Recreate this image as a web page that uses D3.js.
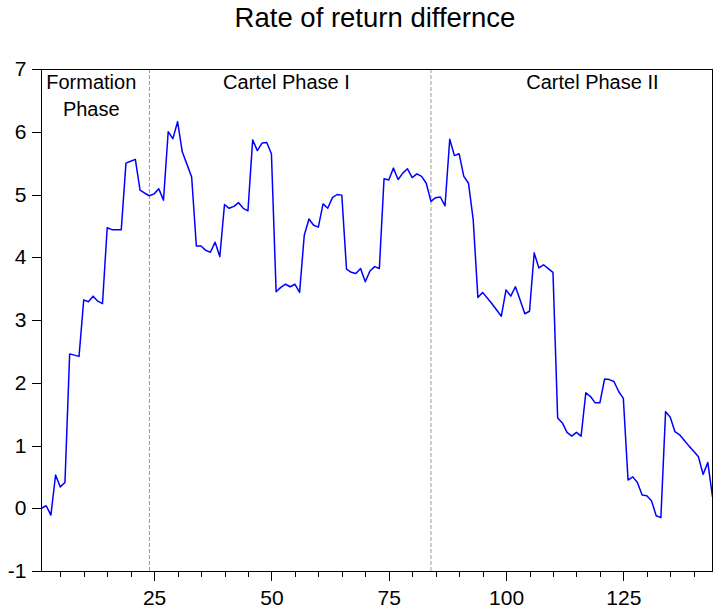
<!DOCTYPE html>
<html>
<head>
<meta charset="utf-8">
<script src="https://cdn.jsdelivr.net/npm/d3@7"></script>
<style>
	body { margin: 0; background: #fff; }
	svg text { font-family: "Liberation Sans", Arial, sans-serif; fill: #000; }
	.axis path, .axis line { stroke: #000; shape-rendering: crispEdges; }
</style>
</head>
<body>
<div id="chart"></div>
<script>
const diff_values = [
	0.00, 0.04, -0.11, 0.53, 0.34, 0.41, 2.46, 2.44, 2.42, 3.32,
	3.29, 3.38, 3.30, 3.26, 4.47, 4.44, 4.44, 4.44, 5.50, 5.53,
	5.56, 5.07, 5.02, 4.98, 5.01, 5.09, 4.91, 6.00, 5.89, 6.16,
	5.68, 5.48, 5.28, 4.18, 4.18, 4.11, 4.08, 4.24, 4.01, 4.84,
	4.78, 4.81, 4.87, 4.78, 4.74, 5.87, 5.70, 5.82, 5.83, 5.65,
	3.45, 3.52, 3.57, 3.53, 3.57, 3.44, 4.35, 4.61, 4.51, 4.48,
	4.85, 4.78, 4.95, 5.00, 4.99, 3.81, 3.76, 3.74, 3.82, 3.61,
	3.78, 3.85, 3.82, 5.25, 5.23, 5.42, 5.24, 5.34, 5.41, 5.27,
	5.33, 5.29, 5.18, 4.89, 4.95, 4.96, 4.82, 5.88, 5.62, 5.65,
	5.29, 5.18, 4.60, 3.36, 3.44, 3.35, 3.26, 3.16, 3.06, 3.48,
	3.38, 3.53, 3.32, 3.10, 3.14, 4.07, 3.83, 3.88, 3.82, 3.76,
	1.44, 1.36, 1.21, 1.15, 1.21, 1.15, 1.84, 1.78, 1.68, 1.68,
	2.06, 2.05, 2.02, 1.86, 1.75, 0.45, 0.50, 0.41, 0.21, 0.20,
	0.12, -0.12, -0.15, 1.54, 1.45, 1.22, 1.17, 1.08, 0.99, 0.91,
	0.82, 0.54, 0.73, 0.18
];
const x_major_ticks = [25, 50, 75, 100, 125];
const x_minor_ticks = [5, 10, 15, 20, 30, 35, 40, 45, 55, 60, 65, 70, 80, 85, 90, 95, 105, 110, 115, 120, 130, 135, 140];
const y_ticks = [-1, 0, 1, 2, 3, 4, 5, 6, 7];
const phase_breaks = [24, 84];
const phase_labels = [
	{ lines: ["Formation", "Phase"], at: 11.6 },
	{ lines: ["Cartel Phase I"], at: 53.2 },
	{ lines: ["Cartel Phase II"], at: 118.4 }
];
const chart_title = "Rate of return differnce";

const W = 715, H = 610;
const margin = { top: 69, right: 2.5, bottom: 39, left: 41.5 };
const width = W - margin.left - margin.right;
const height = H - margin.top - margin.bottom;

const svg = d3.select("#chart").append("svg")
	.attr("width", W)
	.attr("height", H);

svg.append("text")
	.attr("x", 375)
	.attr("y", 27)
	.attr("text-anchor", "middle")
	.style("font-size", "27.5px")
	.text(chart_title);

const g = svg.append("g")
	.attr("transform", `translate(${margin.left},${margin.top})`);

const x_scale = d3.scaleLinear()
	.domain([1, diff_values.length])
	.range([0, width]);

const y_scale = d3.scaleLinear()
	.domain([-1, 7])
	.range([height, 0]);

// dashed phase separators
g.selectAll(".sep")
	.data(phase_breaks)
	.enter()
	.append("line")
	.attr("class", "sep")
	.attr("x1", (d) => x_scale(d))
	.attr("x2", (d) => x_scale(d))
	.attr("y1", 0)
	.attr("y2", height)
	.attr("stroke", "#9a9a9a")
	.attr("stroke-width", 1)
	.attr("stroke-dasharray", "4,2");

// phase labels
phase_labels.forEach((p) => {
	p.lines.forEach((t, i) => {
		g.append("text")
			.attr("x", x_scale(p.at))
			.attr("y", 20 + i * 27)
			.attr("text-anchor", "middle")
			.style("font-size", "20px")
			.text(t);
	});
});

// the series
const line = d3.line()
	.x((d, i) => x_scale(i + 1))
	.y((d) => y_scale(d));

g.append("path")
	.datum(diff_values)
	.attr("fill", "none")
	.attr("stroke", "#0000ff")
	.attr("stroke-width", 1.5)
	.attr("stroke-linejoin", "round")
	.attr("d", line);

// axes (the frame below draws the axis lines)
g.append("g")
	.attr("class", "x axis")
	.attr("transform", `translate(0,${height})`)
	.call(d3.axisBottom(x_scale).tickValues(x_minor_ticks).tickSize(6).tickFormat(""))
	.call((s) => s.select(".domain").remove());

g.append("g")
	.attr("class", "x axis")
	.attr("transform", `translate(0,${height})`)
	.call(d3.axisBottom(x_scale).tickValues(x_major_ticks).tickSize(10).tickPadding(9))
	.call((s) => s.select(".domain").remove())
	.selectAll("text")
	.style("font-size", "21px");

g.append("g")
	.attr("class", "y axis")
	.call(d3.axisLeft(y_scale).tickValues(y_ticks).tickSize(10).tickPadding(5)
		.tickFormat((d) => String(d)))
	.call((s) => s.select(".domain").remove())
	.selectAll("text")
	.style("font-size", "21px");

// frame
g.append("rect")
	.attr("x", 0)
	.attr("y", 0)
	.attr("width", width)
	.attr("height", height)
	.attr("fill", "none")
	.attr("stroke", "#000")
	.attr("stroke-width", 1)
	.style("shape-rendering", "crispEdges");
</script>
</body>
</html>
